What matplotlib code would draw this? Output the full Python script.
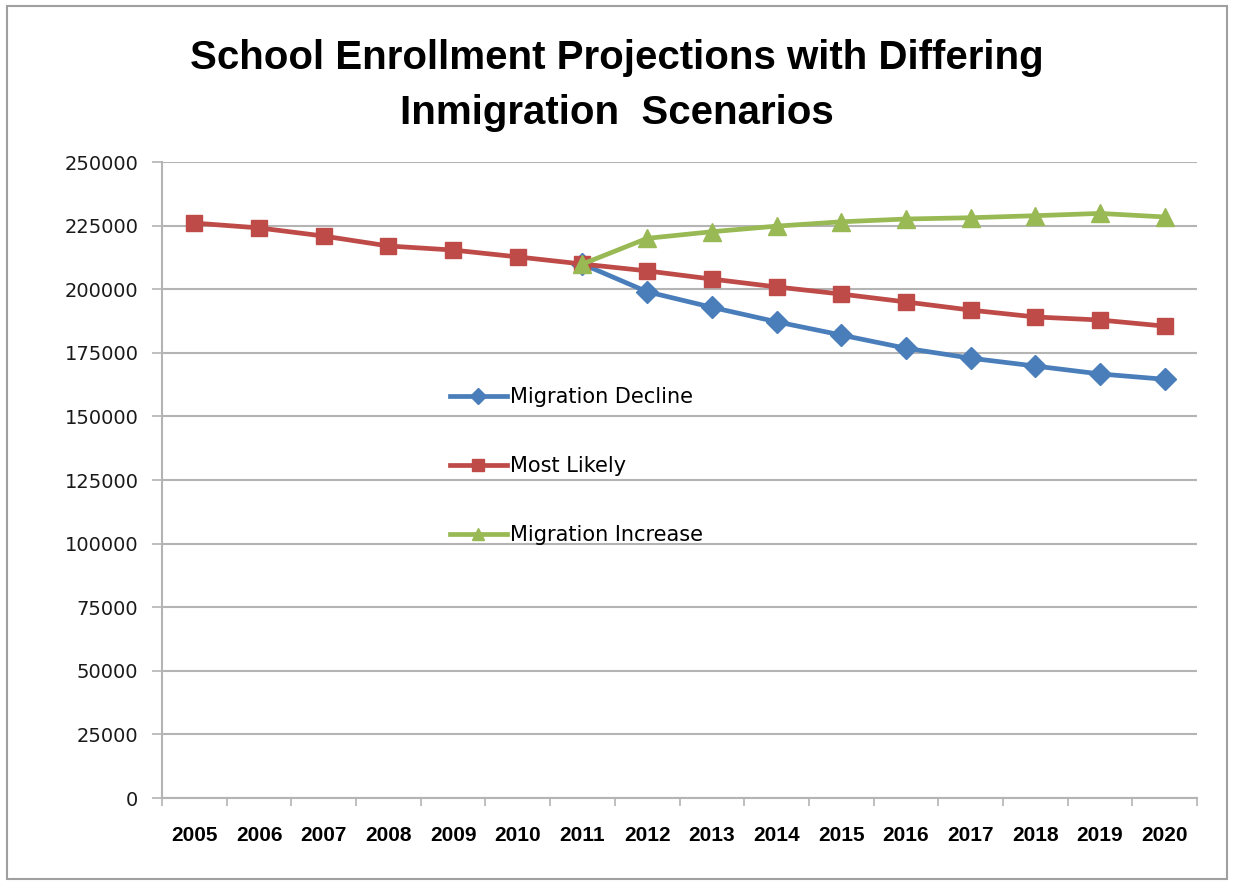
"""
School enrollment projections under three immigration scenarios.
"""
import matplotlib.pyplot as plt
import numpy as np

plt.rcParams["font.family"] = ["DejaVu Sans"]

years = [str(y) for y in range(2005, 2021)]

most_likely = [226000, 224100, 220900, 217000, 215400, 212700, 209900, 207200,
               204000, 200900, 198100, 195000, 191800, 189100, 187900, 185500]
# decline / increase scenarios branch off at 2011
decline = [None] * 6 + [209900, 199000, 192900, 187200, 182000, 176800,
                        172900, 169800, 166700, 164600]
increase = [None] * 6 + [209900, 220000, 222600, 224800, 226500, 227600,
                         228100, 228900, 229800, 228400]

y_ticks = list(range(0, 250001, 25000))

BLUE = "#4a7ebb"
RED = "#be4b48"
GREEN = "#98b954"
GRID = "#b4b4b4"


def to_arr(vals):
    return np.array([np.nan if v is None else v for v in vals], dtype=float)


x = np.arange(len(years))

fig = plt.figure(figsize=(12.33, 8.82), dpi=100)
ax = fig.add_axes([0.1314, 0.0952, 0.8394, 0.7211])

ax.plot(x, to_arr(decline), color=BLUE, lw=3.4, marker="D", ms=11,
        label="Migration Decline", zorder=3)
ax.plot(x, to_arr(most_likely), color=RED, lw=3.4, marker="s", ms=12,
        label="Most Likely", zorder=4)
ax.plot(x, to_arr(increase), color=GREEN, lw=3.4, marker="^", ms=12.5,
        label="Migration Increase", zorder=5)

ax.set_xlim(-0.5, len(years) - 0.5)
ax.set_ylim(0, 250000)
ax.set_yticks(y_ticks)
ax.set_yticklabels([str(t) for t in y_ticks], fontsize=14, color="#1a1a1a")
ax.yaxis.grid(True, color=GRID, lw=1.5)
ax.set_axisbelow(True)

ax.set_xticks(x)
ax.set_xticklabels(years, fontsize=15, fontweight="bold",
                   family="Liberation Sans")
ax.set_xticks(np.arange(-0.5, len(years)), minor=True)
ax.tick_params(axis="x", which="major", length=0, pad=20)
ax.tick_params(axis="x", which="minor", length=6, color=GRID, width=1.2)
ax.tick_params(axis="y", length=7, color=GRID, width=1.2, pad=10)

for side in ("top", "right"):
    ax.spines[side].set_visible(False)
for side in ("left", "bottom"):
    ax.spines[side].set_color(GRID)
    ax.spines[side].set_linewidth(1.5)

ax.legend(loc="upper left", bbox_to_anchor=(0.278, 0.646), frameon=False,
          fontsize=15, labelspacing=2.35, handlelength=2.75,
          handletextpad=0.15, borderpad=0, borderaxespad=0,
          markerscale=0.7)

fig.text(0.5, 0.934, "School Enrollment Projections with Differing",
         ha="center", va="center", fontsize=29, fontweight="bold",
         family="Liberation Sans")
fig.text(0.5, 0.872, "Inmigration  Scenarios",
         ha="center", va="center", fontsize=29, fontweight="bold",
         family="Liberation Sans")

# thin frame around the whole chart
fig.patches.append(plt.Rectangle((0.006, 0.003), 0.989, 0.99,
                                 transform=fig.transFigure, fill=False,
                                 edgecolor="#a0a0a0", lw=1.5))

fig.savefig("out.png", dpi=100)
